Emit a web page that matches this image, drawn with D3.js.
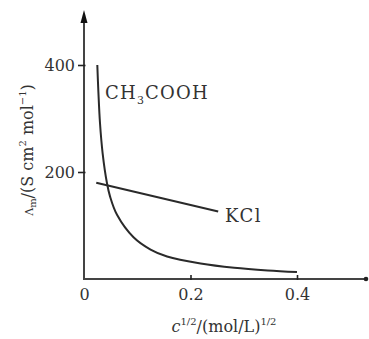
<!DOCTYPE html>
<html><head><meta charset="utf-8">
<script src="https://cdn.jsdelivr.net/npm/d3@7"></script>
<style>
body{margin:0;background:#fff;}
svg{display:block;}
text{font-family:"DejaVu Serif","Liberation Serif",serif;fill:#333;}
</style></head>
<body><svg id="c" width="369" height="339"></svg>
<script>
// CH3COOH curve (c^1/2 vs molar conductivity)
const acidX = [0.025,0.027,0.030,0.035,0.043,0.049,0.062,0.093,0.125,0.156,0.219,0.282,0.345,0.400];
const acidY = [400,350,292,235,180,154,120,78,55,42,29,21,16,13];
// KCl line
const kclX = [0.023,0.252];
const kclY = [180,126];
const xTicks = [0,0.2,0.4];
const xTickLabels = ["0","0.2","0.4"];
const yTicks = [200,400];
const yTickLabels = ["200","400"];

const svg = d3.select("#c");
const x = d3.scaleLinear().domain([0,0.4]).range([84,297]);
const y = d3.scaleLinear().domain([0,400]).range([279,65]);
const ink = "#2a2a2a";

// axes lines
svg.append("line").attr("x1",84).attr("x2",366).attr("y1",y(0)).attr("y2",y(0))
  .attr("stroke","#444").attr("stroke-width",2);
svg.append("circle").attr("cx",366).attr("cy",y(0)).attr("r",2.3).attr("fill","#222");
svg.append("line").attr("x1",x(0)).attr("x2",x(0)).attr("y1",y(0)+1).attr("y2",20)
  .attr("stroke","#444").attr("stroke-width",2);
svg.append("path").attr("d",`M${x(0)-3.5},23 L${x(0)},10 L${x(0)+3.5},23 Z`).attr("fill","#111");

// x axis ticks/labels
const xa = d3.axisBottom(x).tickValues(xTicks).tickSizeInner(-4).tickSizeOuter(0).tickPadding(10)
  .tickFormat((d,i)=>xTickLabels[i]);
const gx = svg.append("g").attr("transform",`translate(0,${y(0)})`).call(xa);
gx.select(".domain").remove();
gx.selectAll(".tick line").attr("stroke","#222").attr("stroke-width",1.6).attr("y2",-4).attr("y1",1)
  .filter(d=>d===0).remove();
gx.selectAll(".tick text").attr("font-size",16).attr("fill","#444").attr("font-family","DejaVu Serif");

// y axis
const ya = d3.axisLeft(y).tickValues(yTicks).tickSizeInner(6).tickSizeOuter(0).tickPadding(3)
  .tickFormat((d,i)=>yTickLabels[i]);
const gy = svg.append("g").attr("transform",`translate(${x(0)},0)`).call(ya);
gy.select(".domain").remove();
gy.selectAll(".tick line").attr("stroke","#222").attr("stroke-width",1.6).attr("x1",1.5);
gy.selectAll(".tick text").attr("font-size",16).attr("fill","#444").attr("font-family","DejaVu Serif");

// curves
const acid = acidX.map((d,i)=>[d,acidY[i]]);
const line = d3.line().x(d=>x(d[0])).y(d=>y(d[1])).curve(d3.curveCatmullRom.alpha(0.5));
svg.append("path").attr("d",line(acid)).attr("fill","none").attr("stroke",ink).attr("stroke-width",2);
const kcl = kclX.map((d,i)=>[d,kclY[i]]);
svg.append("path").attr("d",d3.line().x(d=>x(d[0])).y(d=>y(d[1]))(kcl))
  .attr("fill","none").attr("stroke",ink).attr("stroke-width",2);

// labels
const t1 = svg.append("text").attr("x",105).attr("y",99).attr("font-size",18).attr("letter-spacing",1.2);
t1.append("tspan").text("CH");
t1.append("tspan").attr("font-size",11).attr("dy",5).text("3");
t1.append("tspan").attr("dy",-5).text("COOH");
svg.append("text").attr("x",225).attr("y",222).attr("font-size",18).attr("letter-spacing",1.5).text("KCl");

// x title
const xt = svg.append("text").attr("x",224).attr("y",332).attr("text-anchor","middle").attr("font-size",16).attr("fill","#444");
xt.append("tspan").attr("font-style","italic").text("c");
xt.append("tspan").attr("font-size",10).attr("dy",-7).text("1/2");
xt.append("tspan").attr("dy",7).text("/(mol/L)");
xt.append("tspan").attr("font-size",10).attr("dy",-7).text("1/2");

// y title
const yt = svg.append("text").attr("transform","translate(33,150) rotate(-90)")
  .attr("text-anchor","middle").attr("font-size",16).attr("fill","#444");
yt.append("tspan").attr("font-size",11).text("Λ");
yt.append("tspan").attr("font-size",10).attr("dy",3).text("m");
yt.append("tspan").attr("dy",-3).text("/(S cm");
yt.append("tspan").attr("font-size",10).attr("dy",-7).text("2");
yt.append("tspan").attr("dy",7).text(" mol");
yt.append("tspan").attr("font-size",10).attr("dy",-7).text("−1");
yt.append("tspan").attr("dy",7).text(")");
</script></body></html>
